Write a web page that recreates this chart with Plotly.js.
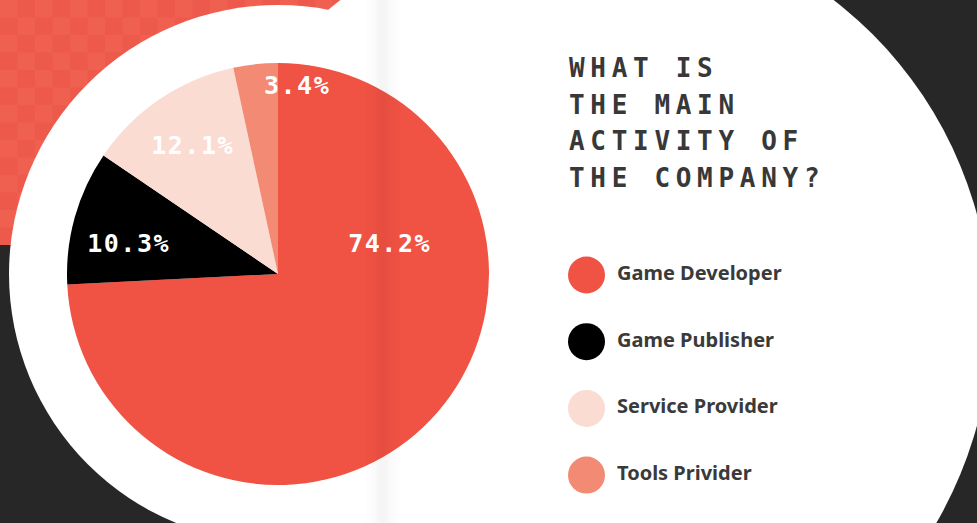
<!DOCTYPE html>
<html>
<head>
<meta charset="utf-8">
<script src="https://cdn.plot.ly/plotly-3.0.1.min.js"></script>
<style>
  html, body { margin: 0; padding: 0; background: #272727; }
  #chart { width: 977px; height: 523px; }
</style>
</head>
<body>
<div id="chart"></div>
<script>
// ---- data ----
const categories = ["Game Developer", "Game Publisher", "Service Provider", "Tools Privider"];
const shares = [74.2, 10.3, 12.1, 3.4];
const sliceColors = ["#f05243", "#000000", "#fbdcd2", "#f28a74"];
const titleLines = ["WHAT IS", "THE MAIN", "ACTIVITY OF", "THE COMPANY?"];

// ---- layout helpers (pixel -> paper) ----
const W = 977, H = 523;
const px = x => x / W;
const py = y => 1 - y / H;

// pie geometry (pixels)
const PC = { x: 278, y: 274, r: 211 };
// label offsets from pie centre (pixels), one per slice
const labelOffsets = [[111, -31], [-150, -31], [-86, -128], [19, -188]];

// legend geometry
const legTop = 275, legStep = 66.7;

const shapes = [];
// red checkered corner
shapes.push({type: 'rect', xref: 'paper', yref: 'paper', layer: 'below',
  x0: px(0), x1: px(350), y0: py(0), y1: py(245), line: {width: 0}, fillcolor: '#ed594a'});
const sq = 17.5;
for (let i = 0; i * sq < 350; i++) {
  for (let j = 0; j * sq < 245; j++) {
    if ((i + j) % 2 === 0) {
      shapes.push({type: 'rect', xref: 'paper', yref: 'paper', layer: 'below',
        x0: px(i * sq), x1: px(Math.min((i + 1) * sq, 350)),
        y0: py(j * sq), y1: py(Math.min((j + 1) * sq, 245)),
        line: {width: 0}, fillcolor: '#ef6050'});
    }
  }
}
// white paper shapes
const circ = (cx, cy, r, col) => ({type: 'circle', xref: 'paper', yref: 'paper', layer: 'below',
  x0: px(cx - r), x1: px(cx + r), y0: py(cy + r), y1: py(cy - r), line: {width: 0}, fillcolor: col});
shapes.push(circ(PC.x, PC.y, 269, '#ffffff'));
shapes.push(circ(587, 320, 404, '#ffffff'));
// fold shading
const foldAlpha = [0.006, 0.012, 0.02, 0.03, 0.038, 0.04, 0.034, 0.025, 0.016, 0.008, 0.004];
foldAlpha.forEach((a, k) => {
  shapes.push({type: 'rect', xref: 'paper', yref: 'paper', layer: 'above',
    x0: px(366 + k * 3.2), x1: px(366 + (k + 1) * 3.2), y0: 0, y1: 1,
    line: {width: 0}, fillcolor: 'rgba(0,0,0,' + a + ')'});
});

const annotations = [];
titleLines.forEach((t, i) => {
  annotations.push({text: t, xref: 'paper', yref: 'paper', x: px(567), y: py(68 + i * 36.7),
    xanchor: 'left', yanchor: 'middle', align: 'left', showarrow: false,
    font: {family: 'DejaVu Sans Mono', size: 26, color: '#383838', weight: 700}});
});
shares.forEach((v, i) => {
  annotations.push({text: v.toFixed(1) + '%', xref: 'paper', yref: 'paper',
    x: px(PC.x + labelOffsets[i][0]), y: py(PC.y + labelOffsets[i][1]),
    xanchor: 'center', yanchor: 'middle', showarrow: false,
    font: {family: 'DejaVu Sans Mono', size: 25, color: '#ffffff', weight: 700}});
});

const idx = categories.map((c, i) => i);
const data = [
  {type: 'pie', values: shares, labels: categories, sort: false, direction: 'clockwise', rotation: 0,
   marker: {colors: sliceColors, line: {width: 0}}, textinfo: 'none', hoverinfo: 'none',
   showlegend: false,
   domain: {x: [px(PC.x - PC.r), px(PC.x + PC.r)], y: [py(PC.y + PC.r), py(PC.y - PC.r)]}},
  {type: 'scatter', mode: 'markers', x: idx.map(() => 0), y: idx, xaxis: 'x', yaxis: 'y',
   marker: {size: 37, color: sliceColors, line: {width: 0}}, hoverinfo: 'none', showlegend: false, cliponaxis: false},
  {type: 'scatter', mode: 'text', x: idx.map(() => 0), y: idx, xaxis: 'x2', yaxis: 'y',
   text: categories, textposition: 'middle right', hoverinfo: 'none', showlegend: false, cliponaxis: false,
   textfont: {family: 'Noto Sans', size: 20, color: '#3a3a3a', weight: 700}}
];

const yTop = legTop - legStep / 2, yBot = yTop + legStep * categories.length;
const layout = {
  width: W, height: H, margin: {l: 0, r: 0, t: 0, b: 0, pad: 0},
  paper_bgcolor: '#272727', plot_bgcolor: 'rgba(0,0,0,0)',
  showlegend: false,
  xaxis: {domain: [px(586.5), 1], range: [0, 1], visible: false, fixedrange: true},
  xaxis2: {domain: [px(617), 1], range: [0, 1], visible: false, fixedrange: true, anchor: 'y'},
  yaxis: {domain: [py(yBot), py(yTop)], range: [categories.length - 0.5, -0.5], visible: false, fixedrange: true},
  shapes: shapes,
  annotations: annotations
};

Plotly.newPlot('chart', data, layout, {displayModeBar: false, staticPlot: true}).then(() => {
  document.querySelectorAll('.annotation-text').forEach(el => {
    const t = el.textContent;
    if (titleLines.indexOf(t) >= 0) el.style.letterSpacing = '5.7px';
    else if (t.indexOf('%') >= 0) el.style.letterSpacing = '1.5px';
  });
});
</script>
</body>
</html>
